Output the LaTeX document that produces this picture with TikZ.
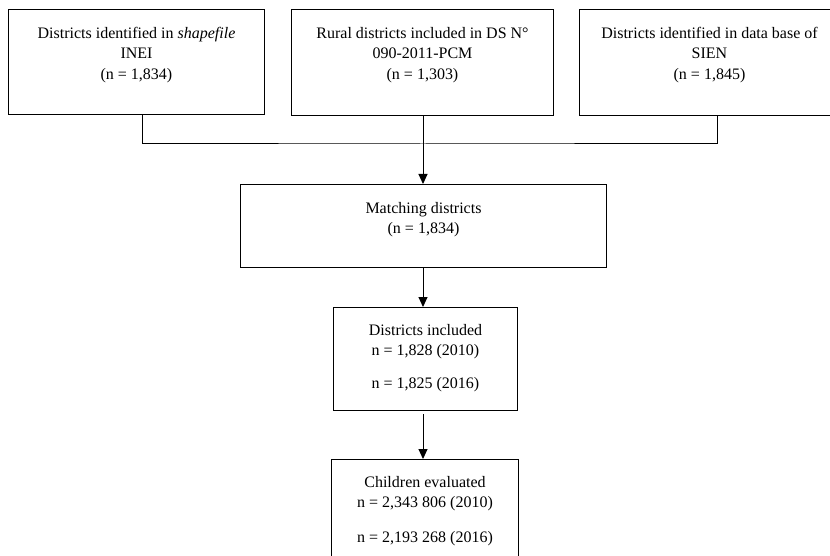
\documentclass[tikz,border=0pt]{standalone}
\usepackage{fontspec}
\setmainfont{Liberation Serif}
\usetikzlibrary{arrows.meta,positioning}
\tikzset{frame/.style={draw,line width=1pt,inner sep=0pt,anchor=north west},
  boxtext/.style={align=center,anchor=north,inner sep=0pt,font=\fontsize{16}{20.5}\selectfont},
  flow/.style={line width=1pt,-{Triangle[length=10pt,width=9pt]}}}

\begin{document}
\begin{tikzpicture}[x=1pt,y=-1pt]
\useasboundingbox (0,0) rectangle (830,556);
\clip (0,0) rectangle (830,556);
% sources
\node[frame,minimum width=256pt,minimum height=105pt] (inei) at (8,9) {};
\node[frame,minimum width=262pt,minimum height=106pt] (rural) at (291,9) {};
\node[frame,minimum width=276pt,minimum height=106pt] (sien) at (579,9) {};
\node[boxtext] (ineitext) at ([yshift=-18pt]inei.north) {Districts identified in \textit{shapefile}\\INEI\\(n = 1,834)};
\node[boxtext] (ruraltext) at ([yshift=-18pt]rural.north) {Rural districts included in DS N°\\090-2011-PCM\\(n = 1,303)};
\node[boxtext] (sientext) at ([xshift=-8pt,yshift=-18pt]sien.north) {Districts identified in data base of\\SIEN\\(n = 1,845)};
% steps
\node[frame,minimum width=366pt,minimum height=83pt] (match) at (240,184) {};
\node[boxtext] (matchtext) at ([yshift=-18pt]match.north) {Matching districts\\(n = 1,834)};
\node[frame,minimum width=184pt,minimum height=103pt] (incl) at (333,307) {};
\node[boxtext] (incltext) at ([yshift=-17pt]incl.north) {Districts included\\n = 1,828 (2010)\\[12pt]n = 1,825 (2016)};
\node[frame,minimum width=187pt,minimum height=120pt] (child) at (331,459) {};
\node[boxtext] (childtext) at ([yshift=-17pt]child.north) {Children evaluated\\n = 2,343 806 (2010)\\[14pt]n = 2,193 268 (2016)};
% connectors
\coordinate (join) at (423,144);
\draw[line width=1pt] ([xshift=6pt]inei.south) |- (join) -| (sien.south);
\draw[line width=1pt] (join |- rural.south) -- (join);
\draw[flow] (join) -- (join |- match.north);
\draw[flow] (join |- match.south) -- (join |- incl.north);
\draw[flow] ([yshift=-3pt]join |- incl.south) -- (join |- child.north);
\end{tikzpicture}
\end{document}
